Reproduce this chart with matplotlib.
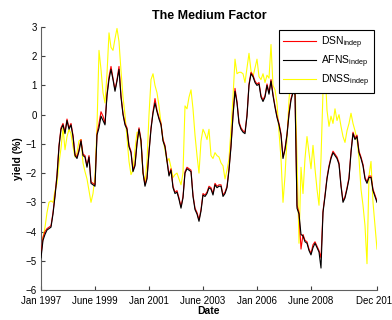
import numpy as np
import matplotlib.pyplot as plt

plt.rcParams['font.family'] = ['Liberation Sans', 'DejaVu Sans']
plt.rcParams['mathtext.fontset'] = 'custom'
plt.rcParams['mathtext.rm'] = 'Liberation Sans'

# Medium factor, monthly, Jan 1997 .. Jan 2011
afns = [-4.9, -4.3, -4.1, -3.95, -3.9, -3.85, -3.4, -2.8, -2.1, -1.1,
        -0.5, -0.35, -0.65, -0.2, -0.5, -0.35, -0.75, -1.4, -1.5, -1.25,
        -0.9, -1.4, -1.45, -1.8, -1.45, -2.35, -2.4, -2.45, -0.7, -0.45,
        -0.05, -0.2, -0.35, 0.65, 1.2, 1.55, 1.2, 0.8, 1.15, 1.55,
        0.6, 0.0, -0.35, -0.5, -1.1, -1.3, -1.95, -1.75, -1.0, -0.5,
        -0.9, -2.0, -2.45, -2.2, -1.3, -0.5, 0.05, 0.4, 0.1, -0.15,
        -0.35, -0.9, -1.1, -1.6, -2.1, -1.9, -2.5, -2.7, -2.65, -2.9,
        -3.2, -2.85, -2.0, -1.85, -1.9, -1.95, -2.8, -3.25, -3.4, -3.65,
        -3.3, -2.75, -2.8, -2.7, -2.5, -2.55, -2.75, -2.4, -2.5, -2.45,
        -2.45, -2.8, -2.7, -2.5, -1.9, -1.1, -0.05, 0.8, 0.4, -0.3,
        -0.5, -0.6, -0.65, -0.05, 1.0, 1.4, 1.3, 1.1, 1.0, 1.05,
        0.6, 0.45, 0.6, 1.0, 0.7, 1.15, 0.65, 0.25, -0.1, -0.35,
        -0.7, -1.5, -1.2, -0.7, 0.0, 0.5, 0.75, 0.7, -3.2, -3.4,
        -4.1, -4.15, -4.35, -4.4, -4.65, -4.8, -4.55, -4.4, -4.55, -4.7,
        -5.25, -3.35, -2.8, -2.2, -1.8, -1.5, -1.3, -1.4, -1.5, -1.7,
        -2.45, -3.0, -2.85, -2.55, -2.2, -1.3, -0.65, -0.85, -0.75, -1.3,
        -1.5, -1.75, -2.2, -2.35, -2.15, -2.15, -2.6, -2.8, -3.0]

dsn = [-4.8, -4.2, -4.0, -3.9, -3.85, -3.8, -3.35, -2.75, -2.05, -1.05,
       -0.45, -0.3, -0.6, -0.15, -0.45, -0.3, -0.7, -1.35, -1.45, -1.2,
       -0.85, -1.35, -1.4, -1.75, -1.4, -2.3, -2.35, -2.4, -0.65, -0.3,
       0.1, -0.05, -0.3, 0.7, 1.3, 1.65, 1.25, 0.85, 1.2, 1.65,
       0.65, 0.05, -0.3, -0.45, -1.05, -1.25, -1.9, -1.7, -0.95, -0.45,
       -0.85, -1.95, -2.4, -2.15, -1.25, -0.45, 0.1, 0.55, 0.15, -0.1,
       -0.3, -0.85, -1.05, -1.55, -2.05, -1.85, -2.45, -2.65, -2.6, -2.85,
       -3.15, -2.8, -1.95, -1.8, -1.85, -1.9, -2.75, -3.2, -3.35, -3.6,
       -3.25, -2.7, -2.75, -2.65, -2.45, -2.5, -2.7, -2.35, -2.45, -2.4,
       -2.4, -2.75, -2.65, -2.45, -1.85, -1.05, 0.0, 0.9, 0.45, -0.25,
       -0.45, -0.55, -0.6, 0.0, 1.05, 1.45, 1.35, 1.15, 1.05, 1.1,
       0.65, 0.5, 0.65, 1.05, 0.75, 1.2, 0.7, 0.3, -0.05, -0.3,
       -0.65, -1.45, -1.15, -0.65, 0.05, 0.55, 0.8, 0.75, -3.1, -3.35,
       -4.6, -4.1, -4.3, -4.35, -4.6, -4.75, -4.45, -4.35, -4.5, -4.65,
       -4.9, -3.3, -2.75, -2.15, -1.75, -1.45, -1.25, -1.35, -1.45, -1.65,
       -2.4, -2.95, -2.8, -2.5, -2.15, -1.25, -0.6, -0.8, -0.7, -1.25,
       -1.45, -1.7, -2.15, -2.3, -2.1, -2.1, -2.55, -2.75, -2.95]

dnss = [-4.6, -4.2, -3.85, -3.35, -3.0, -2.95, -3.0, -2.6, -2.35, -1.65,
        -1.15, -0.45, -1.2, -0.75, -0.5, -0.65, -1.1, -1.45, -1.3, -0.9,
        -0.85, -1.65, -1.95, -2.2, -2.6, -3.0, -2.7, -2.1, -0.4, 2.2,
        1.55, 0.75, 0.4, 1.4, 2.8, 2.3, 2.2, 2.6, 2.95, 2.5,
        1.5, 0.6, 0.0, -0.8, -1.6, -2.05, -1.9, -1.2, -0.6, -0.6,
        -0.95, -2.0, -2.35, -1.6, 0.0, 1.2, 1.4, 1.0, 0.75, 0.3,
        -0.3, -0.85, -1.2, -1.6, -1.5, -1.8, -2.15, -2.05, -2.0, -2.2,
        -2.4, -2.0, 0.3, 0.2, 0.6, 0.85, 0.2, -0.7, -1.4, -2.0,
        -0.9, -0.5, -0.65, -0.85, -0.5, -1.4, -1.5, -1.3, -1.4, -1.45,
        -1.65, -1.75, -2.2, -1.9, -1.5, -0.5, 0.6, 1.9, 1.4, 1.45,
        1.45, 1.4, 1.1, 1.6, 2.1, 1.5, 1.3, 1.6, 1.9, 1.3,
        1.2, 1.4, 1.1, 1.35, 1.25, 2.4, 1.0, 0.85, 0.4, -0.6,
        -1.5, -3.0, -2.1, -0.8, 0.5, 1.5, 2.0, 1.2, -1.5, -4.4,
        -1.8, -2.7, -1.5, -0.75, -1.3, -1.85, -1.05, -1.85, -2.55, -3.1,
        -1.5, 0.8, 1.6, 0.15, -0.4, -0.05, -0.3, 0.2, -0.2, 0.0,
        -0.4, -0.75, -0.95, -0.55, -0.3, 0.05, -0.3, -0.55, -0.85, -1.5,
        -2.55, -3.1, -3.8, -5.1, -2.1, -1.6, -3.0, -3.8, -4.6]

tick_pos = [0, 27, 54, 81, 108, 135, 168]
tick_labels = ['Jan 1997', 'June 1999', 'Jan 2001', 'June 2003',
               'Jan 2006', 'June 2008', 'Dec 2010']

t = np.arange(len(afns))

fig = plt.figure(figsize=(3.92, 3.2), dpi=100)
ax = fig.add_axes([41 / 392, 30 / 320, 336 / 392, 263 / 320])

ax.plot(t, dsn, color='red', lw=0.8, label='DSN$_{\\mathrm{indep}}$', zorder=3)
ax.plot(t, afns, color='black', lw=0.8, label='AFNS$_{\\mathrm{indep}}$', zorder=4)
ax.plot(t, dnss, color='yellow', lw=0.8, label='DNSS$_{\\mathrm{indep}}$', zorder=2)

ax.set_xlim(0, 168)
ax.set_ylim(-6, 3)
ax.set_yticks(range(-6, 4))
ax.set_xticks(tick_pos)
ax.set_xticklabels(tick_labels)
ax.tick_params(direction='in', length=3, labelsize=7, colors='#404040',
               labelcolor='black')
ax.tick_params(axis='x', pad=4)
ax.tick_params(axis='y', pad=3)
for s in ['top', 'right']:
    ax.spines[s].set_visible(False)
for s in ['left', 'bottom']:
    ax.spines[s].set_color('#606060')

ax.set_title('The Medium Factor', fontsize=9, fontweight='bold', pad=6)
ax.set_xlabel('Date', fontsize=7.5, fontweight='bold', labelpad=0)
ax.set_ylabel('yield (%)', fontsize=7.5, fontweight='bold', labelpad=2)

leg = ax.legend(loc='upper right', fontsize=7.5, frameon=True, fancybox=False,
                edgecolor='black', framealpha=1, handlelength=3.2,
                borderaxespad=0.3, labelspacing=0.25, handletextpad=0.5)
leg.get_frame().set_linewidth(0.8)
leg.set_zorder(10)

fig.savefig('out.png', dpi=100)
